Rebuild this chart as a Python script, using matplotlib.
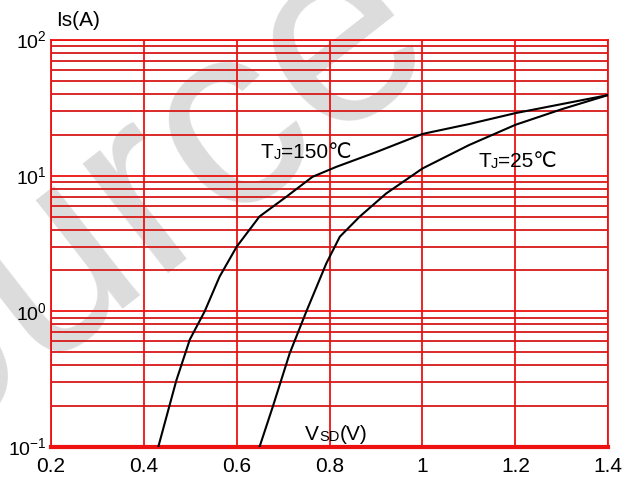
import matplotlib
matplotlib.use("Agg")
import matplotlib.pyplot as plt
from matplotlib.ticker import FixedLocator, NullFormatter, LogLocator

plt.rcParams['font.family'] = ['Liberation Sans', 'DejaVu Sans']
plt.rcParams['mathtext.fontset'] = 'custom'
plt.rcParams['mathtext.rm'] = 'Liberation Sans'

# data
vsd_150 = [0.431, 0.47, 0.499, 0.531, 0.563, 0.60, 0.649, 0.707, 0.763, 0.814, 0.9, 1.0, 1.1, 1.2, 1.3, 1.4]
is_150 = [0.1, 0.31, 0.62, 1.0, 1.8, 3.0, 5.0, 7.0, 9.8, 11.6, 14.9, 20.3, 24.0, 28.9, 33.7, 39.3]
vsd_25 = [0.649, 0.678, 0.714, 0.75, 0.793, 0.822, 0.865, 0.922, 1.0, 1.1, 1.2, 1.3, 1.4]
is_25 = [0.1, 0.2, 0.49, 1.0, 2.26, 3.55, 5.0, 7.4, 11.3, 16.8, 23.7, 30.9, 39.3]
x_ticks = [0.2, 0.4, 0.6, 0.8, 1.0, 1.2, 1.4]
x_labels = ['0.2', '0.4', '0.6', '0.8', '1', '1.2', '1.4']
y_ticks = [0.1, 1, 10, 100]
y_labels = ['$10^{-1}$', '$10^{0}$', '$10^{1}$', '$10^{2}$']

RED = '#ee1111'
fig = plt.figure(figsize=(6.34, 4.79), dpi=100)

# faint watermark behind the chart
fig.text(70/634, 1 - 255/479, 'Source', fontsize=190, color='#dcdcdc',
         rotation=38, rotation_mode='anchor', ha='center', va='center', zorder=-1)

ax = fig.add_axes([0.0804, 0.0668, 0.879, 0.8497])
ax.set_facecolor('none')
ax.set_yscale('log')
ax.set_xlim(0.2, 1.4)
ax.set_ylim(0.1, 100)

ax.xaxis.set_major_locator(FixedLocator(x_ticks))
ax.set_xticklabels(x_labels, fontsize=15)
ax.yaxis.set_major_locator(FixedLocator(y_ticks))
ax.set_yticklabels(y_labels, fontsize=14)
ax.yaxis.set_minor_locator(LogLocator(base=10, subs=range(2, 10)))
ax.yaxis.set_minor_formatter(NullFormatter())
ax.tick_params(which='both', length=0)
ax.tick_params(axis='x', pad=7)
ax.tick_params(axis='y', pad=3)

ax.grid(True, which='major', axis='both', color=RED, lw=1.3)
ax.grid(True, which='minor', axis='y', color='#d81818', lw=1.3)
for s in ax.spines.values():
    s.set_color(RED)
    s.set_linewidth(1.3)
ax.spines['bottom'].set_linewidth(3)

ax.plot(vsd_150, is_150, color='black', lw=1.5, zorder=5)
ax.plot(vsd_25, is_25, color='black', lw=1.5, zorder=5)

def composite(x, y, parts, coords):
    t = ax.text(x, y, parts[0][0], fontsize=parts[0][1], transform=coords, va='baseline', ha='left', zorder=6)
    for txt, fs in parts[1:]:
        t = ax.annotate(txt, xy=(1, 0), xycoords=t, fontsize=fs, va='bottom', ha='left', zorder=6,
                        annotation_clip=False)
    return t

data = ax.transData
composite(0.652, 13.5, [('T', 15), ('J', 10.5), ('=150℃', 15)], data)
composite(1.12, 11.6, [('T', 15), ('J', 10.5), ('=25℃', 15)], data)
composite(0.747, 0.113, [('V', 15), ('SD', 10.5), ('(V)', 15)], data)
fig.text(56/634, 1 - 26/479, 'Is(A)', fontsize=15, ha='left', va='baseline')

fig.savefig('out.png', dpi=100, facecolor='white')
